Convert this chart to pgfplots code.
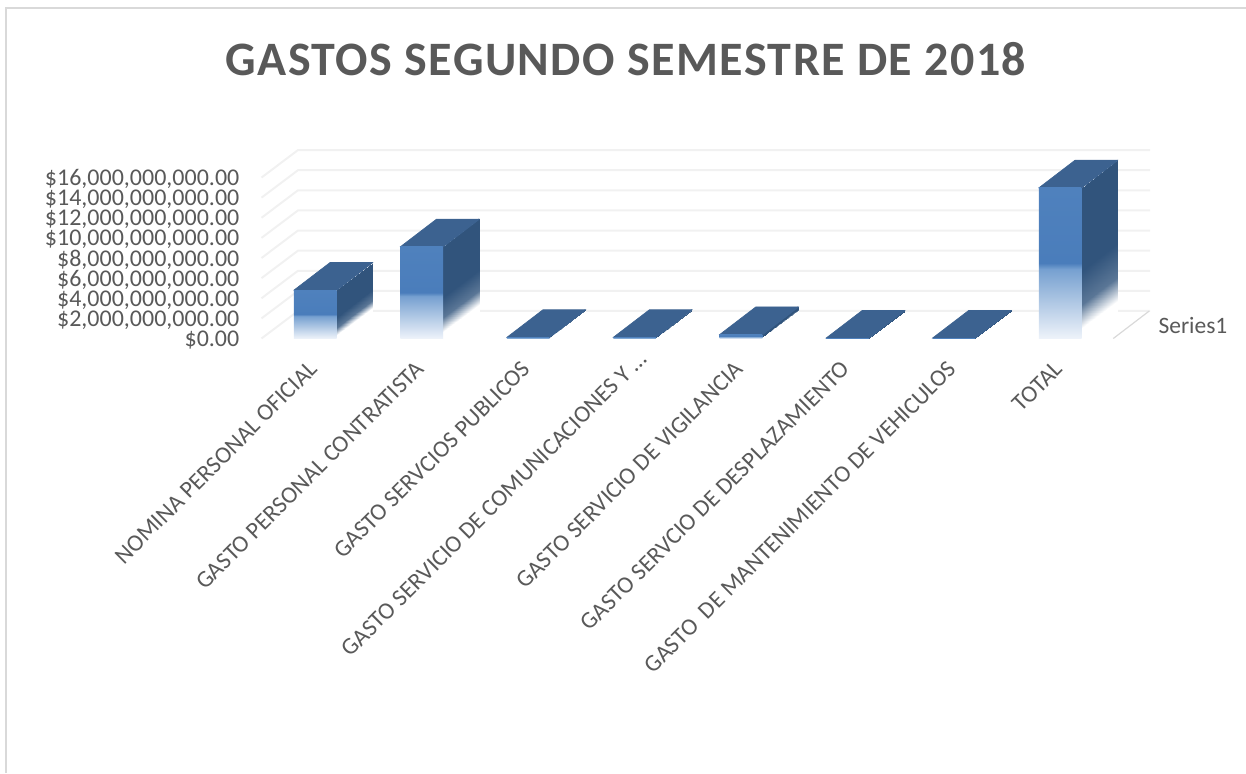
\documentclass[border=0pt]{standalone}
\usepackage{pgfplots}
\pgfplotsset{compat=1.18}
\usepackage{fontspec}
\setmainfont{Carlito}
\newfontfamily\titlefont[LetterSpace=3]{Carlito}
\definecolor{txt}{HTML}{595959}
\definecolor{gridc}{HTML}{F1F1F1}
\definecolor{framec}{HTML}{D9D9D9}
\definecolor{topc}{HTML}{3C6290}
\definecolor{sidec}{HTML}{31547C}
\definecolor{f0}{HTML}{EEF3FA}
\definecolor{f1}{HTML}{76A0D0}
\definecolor{f2}{HTML}{4A7DBB}
\definecolor{f3}{HTML}{4F81BD}
\pgfdeclareverticalshading{barfront}{100bp}{
  color(0bp)=(f0);
  color(25bp)=(f0);
  color(48bp)=(f1);
  color(50bp)=(f2);
  color(75bp)=(f3);
  color(100bp)=(f3)
}
% one 3D column: centre, height (in billions)
\newcommand\ThreeDBar[2]{%
  \pgfmathsetmacro\xF{#1+0.2}%
  \pgfmathsetmacro\xL{#1-0.2}%
  \pgfmathsetmacro\xB{#1+0.538}%
  \pgfmathsetmacro\xC{#1+0.138}%
  \pgfmathsetmacro\hT{#2+2.734}%
  \pgfmathsetmacro\mF{0.45*#2}%
  \pgfmathsetmacro\mB{0.45*#2+2.734}%
  \addplot[patch,patch type=rectangle,shader=interp,point meta=explicit] coordinates {
    (\xF,#2) [0] (\xB,\hT) [0] (\xB,\mB) [0] (\xF,\mF) [0]
    (\xF,\mF) [0] (\xB,\mB) [0] (\xB,2.734) [1] (\xF,0) [1]
  };
  \addplot[fill=topc,draw=topc,line width=0.6pt] coordinates {(\xL,#2) (\xF,#2) (\xB,\hT) (\xC,\hT)} -- cycle;
  \addplot[ybar,shading=barfront,draw=none] coordinates {(#1,#2)};
  \addplot[topc,line width=1.2pt] coordinates {(\xF,#2) (\xB,\hT)};
}
\newcommand\GridL[1]{%
  \pgfmathsetmacro\hG{#1+2.734}%
  \addplot[gridc,line width=2pt] coordinates {(-0.506,#1) (-0.163,\hG) (7.843,\hG)};
}
\begin{document}
\begin{tikzpicture}[x=1pt,y=1pt]
\path[use as bounding box] (0,0) rectangle (1246,773);
\draw[framec,line width=1.6pt] (6,0) -- (6,765) -- (1246,765);
\node[text=txt,font=\titlefont\fontsize{48}{50}\selectfont\bfseries] at (626,714) {GASTOS SEGUNDO SEMESTRE DE 2018};
\begin{axis}[
  at={(261.5pt,434.5pt)},anchor=south west,
  scale only axis,width=888.5pt,height=188.5pt,
  xmin=-0.506,xmax=7.843,ymin=0,ymax=18.74,
  clip=false,
  axis line style={draw=none},
  tick style={draw=none},
  bar width=42.7pt,
  colormap={fade}{color(0cm)=(sidec) color(5cm)=(sidec!80!white) color(8.5cm)=(white) color(10cm)=(white)},
  point meta min=0,point meta max=1,
  ytick={0,2,4,6,8,10,12,14,16},
  yticklabels={\$0.00,{\$2,000,000,000.00},{\$4,000,000,000.00},{\$6,000,000,000.00},{\$8,000,000,000.00},{\$10,000,000,000.00},{\$12,000,000,000.00},{\$14,000,000,000.00},{\$16,000,000,000.00}},
  y tick label style={font=\fontsize{24}{25}\selectfont,text=txt,inner sep=0pt,anchor=east,xshift=-22pt,yshift=-1.5pt},
  xtick={0,1,2,3,4,5,6,7},
  xticklabels={NOMINA PERSONAL OFICIAL,GASTO PERSONAL CONTRATISTA,GASTO SERVCIOS PUBLICOS,{GASTO SERVICIO DE COMUNICACIONES Y …\kern-14pt},GASTO SERVICIO DE VIGILANCIA,GASTO SERVCIO DE DESPLAZAMIENTO,GASTO\ \ DE MANTENIMIENTO DE VEHICULOS,TOTAL},
  x tick label style={font=\fontsize{23.8}{25}\selectfont,text=txt,inner sep=0pt,rotate=45,anchor=north east,xshift=-20pt,yshift=-9.6pt},
]
\GridL{0}\GridL{2}\GridL{4}\GridL{6}\GridL{8}\GridL{10}\GridL{12}\GridL{14}\GridL{16}
\addplot[framec,line width=1.2pt] coordinates {(7.498,0) (7.836,2.734)};
\ThreeDBar{0}{4.82}
\ThreeDBar{1}{9.13}
\ThreeDBar{2}{0.12}
\ThreeDBar{3}{0.12}
\ThreeDBar{4}{0.40}
\ThreeDBar{5}{0.05}
\ThreeDBar{6}{0.05}
\ThreeDBar{7}{14.99}
\node[text=txt,font=\fontsize{23.5}{24}\selectfont,anchor=west,inner sep=0pt] at (axis cs:7.921,1.27) {Series1};
\end{axis}
\end{tikzpicture}
\end{document}
